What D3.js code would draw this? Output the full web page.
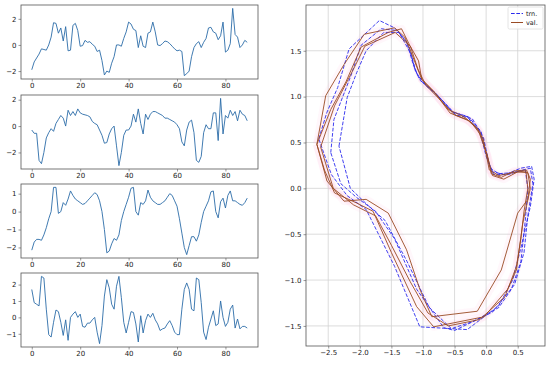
<!DOCTYPE html>
<html>
<head>
<meta charset="utf-8">
<script src="https://cdn.jsdelivr.net/npm/d3@7"></script>
<style>
body { margin: 0; background: #fff; }
text { font-family: "DejaVu Sans", sans-serif; }
</style>
</head>
<body>
<div id="chart"></div>
<script>
var W = 550, H = 367;

// left panels: four time series, index 0..89
var series1 = [-1.9,-1.3,-1.0,-0.7,-0.3,-0.35,-0.4,0.0,0.6,1.7,1.65,0.9,1.3,0.3,1.4,-0.45,-0.4,1.5,1.65,1.1,
  -0.1,-0.05,0.35,0.2,0.25,0.05,-0.1,-0.5,-0.4,-1.2,-2.3,-2.0,-2.1,-1.4,-0.9,0.0,0.0,-0.1,0.5,1.0,
  1.75,1.6,1.2,1.1,-0.2,0.7,-0.1,-0.2,0.9,1.0,1.75,1.0,0.0,-0.05,0.1,0.3,0.25,0.1,-0.1,-0.3,
  -0.45,-0.4,-0.5,-2.35,-2.2,-2.0,-0.9,-0.2,0.1,0.25,-0.2,0.2,0.5,1.3,1.35,1.0,0.9,0.4,0.7,1.75,
  -0.55,-0.4,0.1,2.8,0.8,0.6,-0.2,0.0,0.35,0.2];
var series2 = [-0.3,-0.55,-0.55,-2.6,-2.85,-2.0,-0.9,-0.5,-0.2,-0.4,0.2,0.5,0.8,0.6,0.0,1.2,0.8,1.1,0.8,1.3,
  1.0,0.9,0.85,0.8,0.7,0.35,0.2,0.1,-0.3,-0.7,-1.3,-1.25,-0.6,-0.2,0.0,-1.5,-3.0,-2.0,-0.7,-0.3,
  -0.3,0.0,0.9,0.3,1.3,0.2,-0.6,0.9,0.5,0.9,1.1,1.1,1.0,0.9,0.8,0.6,0.6,0.5,0.4,0.3,
  0.1,-0.2,-1.2,-1.5,-0.3,0.3,0.45,-0.5,-2.6,-2.75,-2.3,-0.5,0.1,-0.2,-0.2,1.0,1.0,-1.1,2.1,-0.6,
  0.8,0.6,1.2,0.8,1.1,0.4,1.2,0.9,0.8,0.4];
var series3 = [-2.15,-1.7,-1.55,-1.55,-1.6,-1.3,-0.9,-0.4,0.0,1.35,1.35,-0.1,0.0,0.5,0.35,0.7,1.15,0.9,0.7,0.6,
  0.5,0.4,0.45,0.6,0.75,0.9,1.05,0.95,0.6,0.0,-1.0,-2.3,-2.2,-1.8,-1.5,-1.6,-1.3,-0.5,0.0,0.4,
  0.8,1.3,1.35,0.0,-0.2,0.5,0.4,0.6,1.2,0.8,0.6,0.5,0.4,0.4,0.5,0.6,0.8,1.0,0.9,0.6,
  0.3,-0.4,-1.2,-2.0,-2.4,-1.9,-1.4,-1.4,-1.65,-1.3,-0.6,0.0,0.3,0.6,1.1,1.15,0.0,-0.35,0.55,0.75,
  0.2,0.9,1.15,0.6,0.6,0.5,0.4,0.35,0.5,0.75];
var series4 = [1.7,0.9,0.8,0.7,2.5,2.4,0.5,-1.05,-1.2,-0.3,0.45,0.35,-0.3,-1.1,-0.15,-1.4,0.0,0.2,0.35,0.0,
  0.2,-0.55,-0.6,-0.35,-0.35,-0.15,0.0,-0.9,-1.6,-0.5,1.3,2.3,1.8,0.8,0.5,1.9,2.5,1.2,-0.3,-0.95,
  -0.3,0.35,0.3,-0.4,-1.5,0.1,-0.95,-0.2,0.2,0.0,0.25,-0.15,-0.4,-0.8,-0.7,-0.65,-0.4,-0.2,-0.5,-0.9,
  -1.05,-1.05,0.5,1.7,2.1,1.7,0.5,0.4,2.4,2.3,0.9,-0.9,-1.35,-0.6,-0.1,0.4,-0.5,-0.4,1.0,0.0,
  -0.55,-0.3,0.5,0.75,-0.65,-0.1,-0.7,-0.55,-0.55,-0.65];
var leftSeries = [series1, series2, series3, series4];
var leftYTicks = [[-2, 0, 2], [-2, 0, 2], [-2, -1, 0, 1], [-1, 0, 1, 2]];
var leftXTicks = [0, 20, 40, 60, 80];

// right panel: closed loops
var trnLoops = [
  [[-2.65,0.54],[-2.52,0.83],[-2.35,1.10],[-2.17,1.52],[-1.69,1.83],[-1.45,1.75],[-1.26,1.60],[-1.15,1.34],[-1.05,1.18],[-0.80,1.04],[-0.55,0.84],[-0.30,0.78],[-0.10,0.62],[0.00,0.35],[0.10,0.18],[0.30,0.15],[0.55,0.22],[0.72,0.24],[0.76,0.10],[0.70,-0.20],[0.55,-0.65],[0.42,-1.00],[0.20,-1.28],[-0.30,-1.54],[-1.05,-1.51],[-1.45,-0.85],[-1.90,-0.23],[-2.20,-0.08],[-2.45,0.15],[-2.65,0.54]],
  [[-2.46,0.39],[-2.41,0.75],[-2.14,1.23],[-1.98,1.56],[-1.66,1.74],[-1.40,1.72],[-1.22,1.55],[-1.12,1.28],[-1.00,1.15],[-0.78,1.02],[-0.52,0.83],[-0.28,0.78],[-0.08,0.62],[0.03,0.30],[0.12,0.15],[0.35,0.15],[0.58,0.20],[0.70,0.22],[0.74,0.05],[0.66,-0.30],[0.60,-0.70],[0.45,-1.05],[0.10,-1.35],[-0.50,-1.55],[-0.67,-1.52],[-1.10,-1.10],[-1.45,-0.55],[-1.75,-0.25],[-2.05,-0.10],[-2.30,0.05],[-2.46,0.39]],
  [[-2.33,0.46],[-2.20,0.99],[-2.05,1.26],[-1.90,1.50],[-1.62,1.70],[-1.38,1.70],[-1.20,1.48],[-1.10,1.25],[-0.95,1.12],[-0.72,0.98],[-0.48,0.80],[-0.22,0.76],[-0.04,0.55],[0.06,0.22],[0.20,0.16],[0.40,0.17],[0.62,0.20],[0.66,0.00],[0.62,-0.35],[0.55,-0.80],[0.40,-1.10],[0.20,-1.30],[-0.20,-1.45],[-0.55,-1.53],[-0.90,-1.30],[-1.25,-0.80],[-1.60,-0.35],[-1.85,-0.20],[-2.15,0.00],[-2.33,0.46]]
];
var valLoops = [
  [[-2.68,0.48],[-2.54,1.01],[-2.25,1.35],[-1.93,1.68],[-1.45,1.75],[-1.29,1.65],[-1.21,1.52],[-1.02,1.19],[-0.83,1.06],[-0.60,0.86],[-0.35,0.78],[-0.14,0.66],[0.02,0.36],[0.08,0.16],[0.24,0.12],[0.45,0.19],[0.64,0.20],[0.70,0.10],[0.66,-0.12],[0.50,-0.27],[0.24,-0.89],[-0.14,-1.34],[-0.86,-1.40],[-1.05,-1.10],[-1.26,-0.67],[-1.55,-0.27],[-1.90,-0.12],[-2.25,-0.14],[-2.52,0.08],[-2.68,0.48]],
  [[-2.68,0.48],[-2.46,0.86],[-2.22,1.16],[-1.98,1.54],[-1.55,1.70],[-1.34,1.74],[-1.21,1.56],[-1.07,1.39],[-1.02,1.19],[-0.80,1.03],[-0.57,0.82],[-0.30,0.75],[-0.10,0.62],[0.04,0.30],[0.10,0.14],[0.28,0.10],[0.50,0.18],[0.66,0.17],[0.70,0.00],[0.58,-0.38],[0.48,-0.89],[0.34,-1.10],[-0.03,-1.40],[-0.83,-1.51],[-1.10,-1.29],[-1.50,-0.70],[-1.79,-0.25],[-2.05,-0.16],[-2.40,-0.05],[-2.56,0.20],[-2.68,0.48]],
  [[-2.62,0.45],[-2.40,0.90],[-2.10,1.30],[-1.92,1.55],[-1.44,1.70],[-1.20,1.55],[-1.08,1.30],[-0.95,1.12],[-0.75,0.98],[-0.50,0.80],[-0.25,0.73],[-0.05,0.55],[0.05,0.20],[0.20,0.14],[0.42,0.17],[0.63,0.19],[0.66,0.00],[0.60,-0.25],[0.55,-0.55],[0.48,-0.85],[0.30,-1.18],[-0.10,-1.43],[-0.60,-1.50],[-0.92,-1.36],[-1.20,-1.02],[-1.50,-0.62],[-1.75,-0.30],[-2.10,-0.18],[-2.42,0.00],[-2.62,0.45]]
];
var rightXTicks = [-2.5, -2.0, -1.5, -1.0, -0.5, 0.0, 0.5];
var rightYTicks = [-1.5, -1.0, -0.5, 0.0, 0.5, 1.0, 1.5];
var legendNames = ['trn.', 'val.'];

var svg = d3.select('#chart').append('svg')
  .attr('width', W).attr('height', H);

var frameColor = '#555', tickColor = '#222';
var trnColor = '#2a2aee', valColor = '#9a4b24';

function pad(ext) {	// matplotlib style 5% margins
  var m = (ext[1] - ext[0]) * 0.05;
  return [ext[0] - m, ext[1] + m];
}

// ---- left column ----
var lx0 = 21, lx1 = 258;
var tops = [5, 95, 184, 273], ph = 74;

leftSeries.forEach(function(data, k) {
  var x = d3.scaleLinear().domain(pad([0, data.length - 1])).range([lx0, lx1]);
  var y = d3.scaleLinear().domain(pad(d3.extent(data))).range([tops[k] + ph, tops[k]]);
  var g = svg.append('g');

  g.append('path')
    .datum(data)
    .attr('fill', 'none')
    .attr('stroke', '#2b6ca8')
    .attr('stroke-width', 0.9)
    .attr('d', d3.line().x(function(d, i) { return x(i); }).y(function(d) { return y(d); }));

  g.append('rect')
    .attr('x', lx0).attr('y', tops[k]).attr('width', lx1 - lx0).attr('height', ph)
    .attr('fill', 'none').attr('stroke', frameColor).attr('stroke-width', 0.8);

  var ax = g.append('g').attr('transform', 'translate(0,' + (tops[k] + ph) + ')')
    .call(d3.axisBottom(x).tickValues(leftXTicks).tickSize(2.5).tickPadding(2).tickFormat(d3.format('d')));
  var ay = g.append('g').attr('transform', 'translate(' + lx0 + ',0)')
    .call(d3.axisLeft(y).tickValues(leftYTicks[k]).tickSize(2.5).tickPadding(2).tickFormat(function(d) { return d < 0 ? '\u2212' + (-d) : d; }));
  [ax, ay].forEach(function(a) {
    a.select('.domain').remove();
    a.selectAll('line').attr('stroke', frameColor).attr('stroke-width', 0.6);
    a.selectAll('text').attr('font-size', 7).attr('fill', tickColor).attr('font-family', 'DejaVu Sans');
  });
});

// ---- right panel ----
var rx0 = 306, rx1 = 545, ry0 = 5, ry1 = 346;
var allPts = d3.merge(trnLoops.concat(valLoops));
var xr = d3.scaleLinear().domain(pad(d3.extent(allPts, function(d) { return d[0]; }))).range([rx0, rx1]);
var yr = d3.scaleLinear().domain(pad(d3.extent(allPts, function(d) { return d[1]; }))).range([ry1, ry0]);

var gr = svg.append('g');
gr.selectAll('.gx').data(rightXTicks).enter().append('line')
  .attr('x1', function(d) { return xr(d); }).attr('x2', function(d) { return xr(d); })
  .attr('y1', ry0).attr('y2', ry1)
  .attr('stroke', '#d3d3d3').attr('stroke-width', 0.8);
gr.selectAll('.gy').data(rightYTicks).enter().append('line')
  .attr('y1', function(d) { return yr(d); }).attr('y2', function(d) { return yr(d); })
  .attr('x1', rx0).attr('x2', rx1)
  .attr('stroke', '#d3d3d3').attr('stroke-width', 0.8);

var loopLine = d3.line().x(function(d) { return xr(d[0]); }).y(function(d) { return yr(d[1]); });

// faint pink halo along the curves
gr.selectAll('.halo').data(valLoops).enter().append('path')
  .attr('d', loopLine)
  .attr('fill', 'none').attr('stroke', '#ffa8d8').attr('stroke-opacity', 0.09)
  .attr('stroke-width', 8).attr('stroke-linejoin', 'round');

gr.selectAll('.trn').data(trnLoops).enter().append('path')
  .attr('d', loopLine)
  .attr('fill', 'none').attr('stroke', trnColor).attr('stroke-width', 0.9)
  .attr('stroke-dasharray', '3.7,1.6');
gr.selectAll('.val').data(valLoops).enter().append('path')
  .attr('d', loopLine)
  .attr('fill', 'none').attr('stroke', valColor).attr('stroke-width', 0.9);

gr.append('rect')
  .attr('x', rx0).attr('y', ry0).attr('width', rx1 - rx0).attr('height', ry1 - ry0)
  .attr('fill', 'none').attr('stroke', frameColor).attr('stroke-width', 0.8);

var fmt1 = function(d) { return d < 0 ? '\u2212' + d3.format('.1f')(-d) : d3.format('.1f')(d); };
var rax = gr.append('g').attr('transform', 'translate(0,' + ry1 + ')')
  .call(d3.axisBottom(xr).tickValues(rightXTicks).tickSize(2.5).tickPadding(2).tickFormat(fmt1));
var ray = gr.append('g').attr('transform', 'translate(' + rx0 + ',0)')
  .call(d3.axisLeft(yr).tickValues(rightYTicks).tickSize(2.5).tickPadding(2).tickFormat(fmt1));
[rax, ray].forEach(function(a) {
  a.select('.domain').remove();
  a.selectAll('line').attr('stroke', frameColor).attr('stroke-width', 0.6);
  a.selectAll('text').attr('font-size', 7).attr('fill', tickColor).attr('font-family', 'DejaVu Sans');
});

// legend
var lg = gr.append('g').attr('transform', 'translate(508,7)');
lg.append('rect').attr('width', 35).attr('height', 22).attr('rx', 1.5)
  .attr('fill', '#fff').attr('fill-opacity', 0.8).attr('stroke', '#ddd').attr('stroke-width', 0.8);
legendNames.forEach(function(name, i) {
  var yy = 6.5 + i * 9;
  lg.append('line').attr('x1', 3).attr('x2', 15).attr('y1', yy).attr('y2', yy)
    .attr('stroke', i === 0 ? trnColor : valColor).attr('stroke-width', 1)
    .attr('stroke-dasharray', i === 0 ? '3.7,1.6' : null);
  lg.append('text').attr('x', 18).attr('y', yy + 2.3).attr('font-size', 6.5)
    .attr('fill', tickColor).text(name);
});
</script>
</body>
</html>
